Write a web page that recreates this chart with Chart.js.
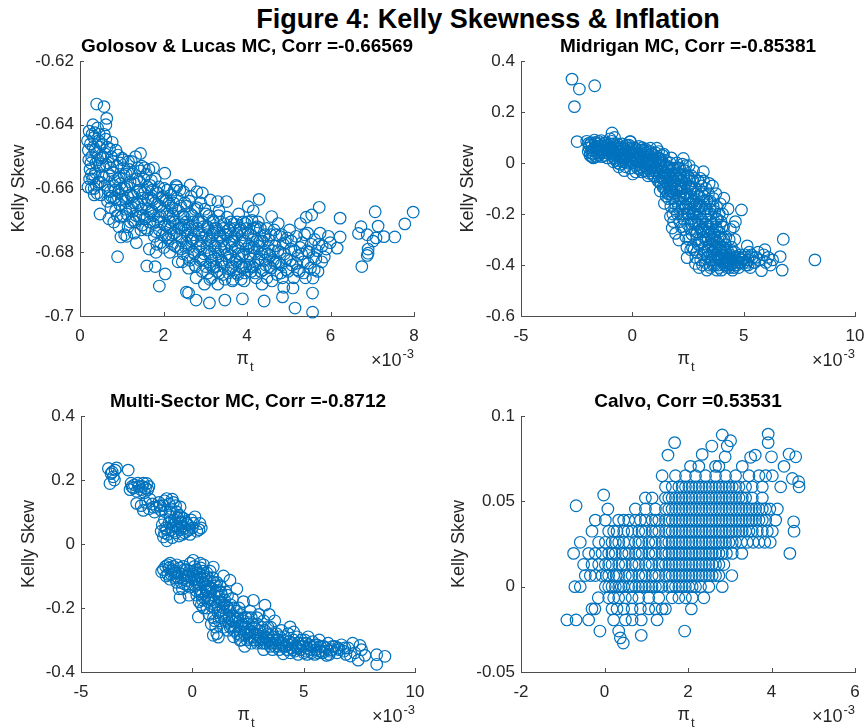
<!DOCTYPE html>
<html>
<head>
<meta charset="utf-8">
<title>Figure 4: Kelly Skewness & Inflation</title>
<script src="https://cdn.jsdelivr.net/npm/chart.js@4.4.1/dist/chart.umd.min.js"></script>
<style>
    body {
        margin: 0;
        width: 865px;
        height: 727px;
        position: relative;
        overflow: hidden;
        background: #fff;
        font-family: "Liberation Sans", Arial, Helvetica, sans-serif;
    }
    #figTitle {
        position: absolute;
        left: 488px;
        top: 6px;
        transform: translateX(-50%);
        white-space: nowrap;
        font-size: 27px;
        line-height: 27px;
        font-weight: bold;
        color: #000;
    }
    canvas {
        position: absolute;
    }
</style>
</head>
<body>
<div id="figTitle"></div>
<canvas id="golosovChart"></canvas>
<canvas id="midriganChart"></canvas>
<canvas id="multiChart"></canvas>
<canvas id="calvoChart"></canvas>

<script>
var figTitle = 'Figure 4: Kelly Skewness & Inflation';
var yLabel = 'Kelly Skew';
var panelTitles = [
    'Golosov & Lucas MC, Corr =-0.66569',
    'Midrigan MC, Corr =-0.85381',
    'Multi-Sector MC, Corr =-0.8712',
    'Calvo, Corr =0.53531'
];

// x = pi_t in units of 1e-3 (axes show x10^-3), y = Kelly skewness
var golosovPts = [
    [0.40, -0.6335], [0.575, -0.6343], [0.64, -0.638], [0.62, -0.640], [0.48, -0.668], [0.34, -0.660],
    [0.22, -0.642], [0.25, -0.646], [0.28, -0.650], [0.24, -0.654], [0.30, -0.657], [0.27, -0.660], [0.33, -0.644],
    [0.36, -0.648], [0.38, -0.652], [0.35, -0.656], [0.42, -0.641], [0.45, -0.645], [0.40, -0.649], [0.47, -0.653],
    [0.44, -0.658], [0.50, -0.662], [0.31, -0.640], [0.26, -0.652], [0.48, -0.647], [0.52, -0.656], [0.20, -0.648],
    [0.34, -0.662], [0.55, -0.650], [0.58, -0.643], [0.60, -0.659],
    [0.65, -0.647], [0.68, -0.652], [0.70, -0.656], [0.72, -0.661], [0.66, -0.664], [0.75, -0.650], [0.78, -0.655],
    [0.80, -0.659], [0.82, -0.663], [0.85, -0.667], [0.88, -0.653], [0.90, -0.657], [0.92, -0.661], [0.95, -0.665],
    [0.98, -0.669], [0.86, -0.648], [0.74, -0.666], [0.96, -0.652], [1.00, -0.660], [0.93, -0.672],
    [0.90, -0.6814], [0.98, -0.6752], [0.72, -0.663],
    [1.03, -0.651], [1.06, -0.656], [1.08, -0.660], [1.10, -0.664], [1.12, -0.668], [1.15, -0.672], [1.18, -0.654],
    [1.20, -0.658], [1.22, -0.662], [1.25, -0.666], [1.28, -0.670], [1.30, -0.674], [1.33, -0.650], [1.36, -0.657],
    [1.38, -0.661], [1.40, -0.665], [1.42, -0.669], [1.45, -0.649], [1.48, -0.653], [1.50, -0.663], [1.46, -0.673],
    [1.35, -0.677], [1.12, -0.675],
    [1.53, -0.657], [1.56, -0.661], [1.58, -0.665], [1.60, -0.669], [1.62, -0.673], [1.65, -0.654], [1.68, -0.659],
    [1.70, -0.663], [1.72, -0.667], [1.75, -0.671], [1.78, -0.675], [1.80, -0.657], [1.83, -0.661], [1.85, -0.665],
    [1.88, -0.669], [1.90, -0.673], [1.93, -0.677], [1.96, -0.663], [1.98, -0.667], [1.66, -0.679], [1.82, -0.680],
    [1.90, -0.6906], [2.03, -0.6552], [1.60, -0.6843], [1.80, -0.6845], [2.04, -0.6868],
    [2.02, -0.660], [2.05, -0.664], [2.08, -0.668], [2.10, -0.672], [2.12, -0.676], [2.15, -0.680], [2.18, -0.662],
    [2.20, -0.666], [2.22, -0.670], [2.25, -0.674], [2.28, -0.678], [2.30, -0.659], [2.33, -0.663], [2.36, -0.667],
    [2.38, -0.671], [2.40, -0.675], [2.42, -0.679], [2.45, -0.683], [2.48, -0.661], [2.50, -0.669], [2.35, -0.683],
    [2.52, -0.673], [2.55, -0.677], [2.58, -0.681], [2.60, -0.685], [2.62, -0.664], [2.65, -0.668], [2.68, -0.672],
    [2.70, -0.676], [2.72, -0.680], [2.75, -0.684], [2.78, -0.688], [2.80, -0.666], [2.83, -0.670], [2.85, -0.674],
    [2.88, -0.678], [2.90, -0.682], [2.93, -0.686], [2.96, -0.672], [2.98, -0.690], [2.64, -0.6589], [2.80, -0.661],
    [2.32, -0.6594], [2.93, -0.6614], [2.60, -0.6928], [2.78, -0.695], [2.55, -0.6925],
    [3.02, -0.668], [3.05, -0.672], [3.08, -0.676], [3.10, -0.680], [3.12, -0.684], [3.15, -0.688], [3.18, -0.670],
    [3.20, -0.674], [3.22, -0.678], [3.25, -0.682], [3.28, -0.686], [3.30, -0.690], [3.33, -0.667], [3.36, -0.675],
    [3.38, -0.679], [3.40, -0.683], [3.42, -0.687], [3.45, -0.671], [3.48, -0.681], [3.12, -0.6636], [3.30, -0.6641],
    [3.10, -0.6959], [3.47, -0.695],
    [3.52, -0.669], [3.55, -0.673], [3.58, -0.677], [3.60, -0.681], [3.62, -0.685], [3.65, -0.689], [3.68, -0.671],
    [3.70, -0.675], [3.72, -0.679], [3.75, -0.683], [3.78, -0.687], [3.80, -0.668], [3.83, -0.673], [3.85, -0.677],
    [3.88, -0.681], [3.90, -0.685], [3.93, -0.689], [3.96, -0.671], [3.98, -0.679], [3.51, -0.6641], [3.89, -0.6946],
    [4.02, -0.674], [4.05, -0.678], [4.08, -0.682], [4.10, -0.686], [4.12, -0.670], [4.15, -0.676], [4.18, -0.680],
    [4.20, -0.684], [4.22, -0.688], [4.25, -0.672], [4.28, -0.678], [4.30, -0.682], [4.33, -0.686], [4.36, -0.690],
    [4.40, -0.675], [4.42, -0.680], [4.45, -0.684], [4.48, -0.688], [4.29, -0.6634], [4.03, -0.6657], [4.41, -0.6953],
    [4.15, -0.667],
    [4.52, -0.676], [4.55, -0.681], [4.58, -0.685], [4.60, -0.689], [4.59, -0.6688], [4.65, -0.673], [4.68, -0.678],
    [4.70, -0.683], [4.72, -0.687], [4.78, -0.675], [4.80, -0.680], [4.82, -0.684], [4.85, -0.688], [4.88, -0.691],
    [4.92, -0.677], [4.95, -0.682], [4.98, -0.686], [4.85, -0.694], [4.75, -0.671],
    [5.02, -0.673], [5.05, -0.679], [5.08, -0.684], [5.12, -0.688], [5.15, -0.6975], [5.10, -0.6912], [5.18, -0.675],
    [5.22, -0.681], [5.25, -0.686], [5.28, -0.671], [5.32, -0.677], [5.35, -0.683], [5.40, -0.688], [5.45, -0.674],
    [5.48, -0.680], [5.52, -0.685], [5.57, -0.6988], [5.57, -0.6928], [5.58, -0.6881], [5.55, -0.6683], [5.62, -0.676],
    [5.65, -0.682], [5.70, -0.686], [5.73, -0.6659], [5.75, -0.674], [5.79, -0.683], [5.80, -0.678], [5.42, -0.669],
    [5.99, -0.677], [6.16, -0.6787], [6.23, -0.6693], [6.23, -0.6752], [5.90, -0.679], [5.95, -0.675],
    [6.67, -0.6741], [6.73, -0.672], [6.75, -0.6845], [6.90, -0.6803], [6.90, -0.6790], [6.88, -0.6810], [7.07, -0.6673],
    [7.14, -0.6718], [7.09, -0.6755], [7.02, -0.6765], [7.28, -0.6751], [7.54, -0.6752], [7.78, -0.6711], [7.98, -0.6674],
    [6.88, -0.6745],
    [0.18, -0.645], [0.21, -0.651], [0.23, -0.657], [0.29, -0.643], [0.32, -0.647], [0.37, -0.655], [0.39, -0.659],
    [0.43, -0.651], [0.46, -0.643], [0.49, -0.658], [0.53, -0.646], [0.56, -0.653], [0.59, -0.649], [0.27, -0.6555],
    [0.41, -0.6615], [0.19, -0.6595], [0.36, -0.6425], [0.51, -0.6505],
    [0.63, -0.6525], [0.67, -0.6605], [0.71, -0.6475], [0.76, -0.6625], [0.79, -0.6515], [0.83, -0.6575], [0.87, -0.6635],
    [0.91, -0.6495], [0.94, -0.6565], [0.99, -0.6635], [1.02, -0.6685], [1.05, -0.6535], [1.09, -0.6665], [1.13, -0.6595],
    [1.16, -0.6515], [1.21, -0.6705], [1.24, -0.6555], [1.27, -0.6625], [1.31, -0.6585], [1.34, -0.6685], [1.39, -0.6535],
    [1.43, -0.6605], [1.47, -0.6665], [1.49, -0.6715], [0.69, -0.6695], [0.81, -0.6705], [1.07, -0.6745],
    [1.51, -0.6685], [1.54, -0.6535], [1.57, -0.6725], [1.61, -0.6595], [1.64, -0.6665], [1.67, -0.6705], [1.71, -0.6575],
    [1.74, -0.6635], [1.77, -0.6685], [1.81, -0.6735], [1.84, -0.6775], [1.87, -0.6615], [1.91, -0.6655], [1.94, -0.6705],
    [1.97, -0.6745], [2.01, -0.6785], [2.04, -0.6715], [2.07, -0.6635], [2.11, -0.6755], [2.14, -0.6685], [2.17, -0.6725],
    [2.21, -0.6775], [2.24, -0.6645], [2.27, -0.6705], [2.31, -0.6745], [2.34, -0.6785], [2.37, -0.6725], [2.41, -0.6655],
    [2.44, -0.6765], [2.47, -0.6805], [2.49, -0.6715],
    [2.51, -0.6645], [2.54, -0.6705], [2.57, -0.6745], [2.61, -0.6785], [2.63, -0.6825], [2.67, -0.6765], [2.71, -0.6705],
    [2.74, -0.6805], [2.77, -0.6845], [2.81, -0.6725], [2.84, -0.6785], [2.87, -0.6825], [2.91, -0.6765], [2.94, -0.6705],
    [2.97, -0.6805], [3.01, -0.6845], [3.04, -0.6785], [3.07, -0.6725], [3.11, -0.6885], [3.14, -0.6805], [3.17, -0.6745],
    [3.21, -0.6845], [3.24, -0.6785], [3.27, -0.6725], [3.31, -0.6805], [3.34, -0.6865], [3.37, -0.6705], [3.41, -0.6765],
    [3.44, -0.6845], [3.47, -0.6885], [3.49, -0.6745],
    [3.53, -0.6805], [3.56, -0.6865], [3.59, -0.6725], [3.63, -0.6785], [3.66, -0.6845], [3.69, -0.6765], [3.73, -0.6825],
    [3.76, -0.6705], [3.79, -0.6785], [3.82, -0.6845], [3.86, -0.6885], [3.89, -0.6745], [3.92, -0.6805], [3.95, -0.6865],
    [3.99, -0.6725], [4.04, -0.6805], [4.09, -0.6745], [4.13, -0.6845], [4.17, -0.6785], [4.21, -0.6725], [4.26, -0.6825],
    [4.31, -0.6765], [4.35, -0.6805], [4.39, -0.6855], [4.44, -0.6745], [4.49, -0.6805], [4.54, -0.6845], [4.61, -0.6795],
    [4.67, -0.6835], [4.74, -0.6795], [4.81, -0.6865], [4.87, -0.6775], [4.94, -0.6855],
    [5.04, -0.6825], [5.14, -0.6795], [5.21, -0.6855], [5.31, -0.6805], [5.38, -0.6745], [5.46, -0.6835], [5.54, -0.6775],
    [5.61, -0.6855], [5.68, -0.6795],
    [0.57, -0.6565], [0.62, -0.6445], [0.73, -0.6535], [0.77, -0.6455], [0.84, -0.6605], [0.89, -0.6685], [0.97, -0.6585],
    [1.01, -0.6505], [1.04, -0.6625], [1.11, -0.6555], [1.14, -0.6625], [1.19, -0.6665], [1.23, -0.6515], [1.29, -0.6645],
    [1.32, -0.6705], [1.37, -0.6645], [1.41, -0.6575], [1.44, -0.6545], [1.52, -0.6615], [1.55, -0.6695], [1.59, -0.6555],
    [1.63, -0.6635], [1.69, -0.6675], [1.73, -0.6605], [1.76, -0.6535], [1.79, -0.6645], [1.86, -0.6705], [1.89, -0.6595],
    [1.92, -0.6685], [1.99, -0.6625], [2.06, -0.6745], [2.09, -0.6605], [2.13, -0.6645], [2.16, -0.6705], [2.19, -0.6745],
    [2.23, -0.6685], [2.26, -0.6605], [2.29, -0.6665], [2.39, -0.6605], [2.43, -0.6725], [2.46, -0.6685], [2.53, -0.6785],
    [2.56, -0.6655], [2.59, -0.6725], [2.66, -0.6625], [2.69, -0.6685], [2.73, -0.6745], [2.76, -0.6665], [2.79, -0.6765],
    [2.86, -0.6705], [2.89, -0.6645], [2.92, -0.6745], [2.95, -0.6825], [2.99, -0.6665], [3.03, -0.6745], [3.06, -0.6865],
    [3.09, -0.6685], [3.13, -0.6765], [3.16, -0.6825], [3.19, -0.6705], [3.23, -0.6725], [3.26, -0.6845], [3.29, -0.6765],
    [3.32, -0.6685], [3.35, -0.6745], [3.39, -0.6825], [3.43, -0.6725], [3.46, -0.6785], [3.54, -0.6745], [3.57, -0.6825],
    [3.61, -0.6705], [3.64, -0.6765], [3.67, -0.6885], [3.71, -0.6725], [3.74, -0.6865], [3.77, -0.6745], [3.81, -0.6805],
    [3.84, -0.6725], [3.87, -0.6845], [3.91, -0.6705], [3.94, -0.6765], [3.97, -0.6845], [4.01, -0.6705], [4.06, -0.6845],
    [4.11, -0.6785], [4.16, -0.6725], [4.19, -0.6865], [4.24, -0.6765], [4.27, -0.6705], [4.32, -0.6725], [4.37, -0.6765],
    [4.43, -0.6825], [4.47, -0.6725], [4.51, -0.6785], [4.57, -0.6745], [4.63, -0.6825], [4.69, -0.6745], [4.76, -0.6835],
    [4.83, -0.6745], [4.90, -0.6805], [4.97, -0.6755], [5.06, -0.6765], [5.17, -0.6835], [5.27, -0.6785], [5.36, -0.6865],
    [5.44, -0.6795], [5.59, -0.6815], [5.72, -0.6775], [5.85, -0.6815]
];

var midriganPts = [
    [-2.71, 0.329], [-2.38, 0.290], [-1.69, 0.303], [-2.60, 0.221], [-2.48, 0.084],
    [-2.05, 0.085], [-1.96, 0.077], [-1.95, 0.060], [-1.90, 0.030], [-1.85, 0.080], [-1.81, 0.025], [-1.80, 0.050],
    [-1.75, 0.020], [-1.70, 0.090], [-1.65, 0.065], [-1.60, 0.040], [-1.55, 0.075], [-1.51, 0.064], [-1.50, 0.030],
    [-1.45, 0.055], [-1.40, 0.088], [-1.35, 0.045], [-1.30, 0.065], [-1.25, 0.030], [-1.20, 0.080], [-1.15, 0.050],
    [-1.10, 0.070], [-1.05, 0.035], [-1.00, 0.095], [-0.91, 0.118], [-0.80, 0.100],
    [-0.95, 0.060], [-0.90, 0.030], [-0.85, 0.075], [-0.80, 0.045], [-0.75, 0.010], [-0.70, 0.065], [-0.65, 0.035],
    [-0.61, -0.015], [-0.55, 0.055], [-0.50, 0.020], [-0.45, 0.075], [-0.40, 0.040], [-0.36, -0.030], [-0.30, 0.005],
    [-0.25, 0.060], [-0.20, 0.030], [-0.15, 0.070], [-0.10, 0.045], [-0.09, 0.084], [-0.05, 0.010], [0.02, -0.043],
    [0.00, 0.055], [-0.55, -0.005], [-0.85, 0.005],
    [0.05, 0.030], [0.10, 0.060], [0.15, -0.010], [0.20, 0.040], [0.25, 0.015], [0.30, 0.065], [0.35, -0.025],
    [0.40, 0.035], [0.45, 0.005], [0.50, 0.050], [0.55, -0.030], [0.60, 0.025], [0.65, -0.005], [0.70, 0.045],
    [0.75, -0.040], [0.80, 0.015], [0.81, 0.058], [0.85, -0.015], [0.90, 0.035], [0.95, -0.050], [1.00, 0.005],
    [0.30, -0.005], [0.60, 0.000], [0.45, 0.060],
    [1.05, 0.040], [1.10, -0.020], [1.15, 0.020], [1.20, -0.050], [1.25, 0.000], [1.30, -0.080], [1.35, 0.030],
    [1.40, -0.030], [1.44, -0.158], [1.45, -0.100], [1.50, 0.010], [1.55, -0.060], [1.60, -0.120], [1.65, -0.015],
    [1.70, -0.085], [1.75, 0.020], [1.80, -0.140], [1.85, -0.045], [1.90, -0.180], [1.94, -0.276], [1.95, -0.100],
    [2.00, 0.000], [1.25, -0.110], [1.71, -0.210], [1.79, -0.255], [1.85, -0.230], [1.50, -0.040], [1.15, -0.070],
    [1.35, -0.060],
    [2.05, -0.020], [2.10, -0.060], [2.15, -0.100], [2.20, -0.140], [2.25, -0.180], [2.30, -0.220], [2.35, -0.030],
    [2.40, -0.080], [2.45, -0.120], [2.50, -0.160], [2.55, -0.200], [2.60, -0.260], [2.65, -0.050], [2.70, -0.100],
    [2.75, -0.150], [2.80, -0.190], [2.85, -0.240], [2.90, -0.300], [2.95, -0.070], [3.00, -0.130], [2.09, -0.302],
    [2.46, -0.371], [2.83, -0.394], [2.40, -0.290], [2.20, -0.250], [2.70, -0.330], [2.90, -0.350], [2.55, -0.010],
    [2.25, -0.005], [2.75, -0.030], [2.35, -0.200], [2.65, -0.220],
    [3.05, -0.060], [3.10, -0.170], [3.15, -0.230], [3.20, -0.290], [3.25, -0.350], [3.30, -0.100], [3.35, -0.150],
    [3.40, -0.200], [3.45, -0.260], [3.50, -0.320], [3.55, -0.380], [3.60, -0.090], [3.65, -0.140], [3.70, -0.190],
    [3.75, -0.250], [3.80, -0.310], [3.85, -0.370], [3.90, -0.410], [3.95, -0.160], [4.00, -0.300], [3.00, -0.410],
    [3.15, -0.400], [3.35, -0.420], [3.50, -0.410], [3.70, -0.400], [3.80, -0.420], [3.20, -0.070], [3.45, -0.080],
    [3.40, -0.370], [3.65, -0.350], [3.90, -0.340], [3.25, -0.180], [3.55, -0.270], [3.75, -0.120],
    [4.05, -0.200], [4.10, -0.250], [4.11, -0.138], [4.15, -0.340], [4.20, -0.380], [4.25, -0.410], [4.30, -0.180],
    [4.35, -0.300], [4.40, -0.360], [4.45, -0.395], [4.50, -0.420], [4.55, -0.250], [4.63, -0.230], [4.60, -0.350],
    [4.65, -0.380], [4.70, -0.400], [4.75, -0.370], [4.80, -0.390], [4.85, -0.360], [4.90, -0.184], [4.95, -0.380],
    [4.00, -0.420], [4.20, -0.290], [4.45, -0.330], [4.30, -0.400], [4.55, -0.410],
    [5.05, -0.360], [5.10, -0.400], [5.16, -0.325], [5.20, -0.380], [5.30, -0.410], [5.35, -0.360], [5.45, -0.390],
    [5.55, -0.370], [5.65, -0.350], [5.70, -0.380], [5.80, -0.422], [5.90, -0.360], [6.00, -0.390], [6.10, -0.370],
    [6.20, -0.400], [6.30, -0.380], [6.64, -0.367], [6.78, -0.299], [6.73, -0.420], [8.20, -0.380], [5.25, -0.350],
    [5.95, -0.340],
    [1.55, -0.010], [1.62, -0.045], [1.72, -0.030], [1.78, -0.110], [1.88, -0.070], [1.98, -0.150], [2.02, -0.200],
    [2.12, -0.020], [2.18, -0.090], [2.28, -0.130], [2.32, -0.060], [2.42, -0.170], [2.48, -0.240], [2.52, -0.090],
    [2.58, -0.140], [2.62, -0.180], [2.68, -0.280], [2.72, -0.070], [2.78, -0.120], [2.82, -0.170], [2.88, -0.210],
    [2.92, -0.270], [2.98, -0.320], [3.02, -0.200], [3.08, -0.260], [3.12, -0.310], [3.18, -0.360], [3.22, -0.130],
    [3.28, -0.240], [3.32, -0.300], [3.38, -0.340], [3.42, -0.120], [3.48, -0.180], [3.52, -0.230], [3.58, -0.300],
    [3.62, -0.400], [3.68, -0.280], [3.72, -0.330], [3.78, -0.170], [3.82, -0.220], [3.88, -0.270], [3.92, -0.380],
    [3.98, -0.230], [4.02, -0.350], [4.08, -0.390], [4.18, -0.320], [4.28, -0.370],
    [-0.80, 0.040], [-0.60, 0.030], [-0.40, 0.020], [-0.20, 0.045], [0.00, 0.010], [0.20, 0.025], [0.40, -0.015],
    [0.60, 0.040], [0.80, -0.030], [1.00, 0.030], [1.10, -0.040], [1.20, 0.020], [1.30, -0.010], [1.40, 0.035],
    [1.45, -0.070], [1.60, -0.020], [1.70, 0.000], [1.75, -0.060], [1.90, -0.020], [2.00, -0.110], [2.10, -0.040],
    [2.20, -0.070], [2.30, -0.100], [2.40, -0.010], [2.50, -0.050], [2.60, -0.100], [2.70, -0.150], [2.80, -0.060],
    [2.90, -0.120], [3.00, -0.170], [3.10, -0.090], [3.20, -0.150], [3.30, -0.210], [3.40, -0.300], [3.50, -0.150],
    [3.60, -0.240], [3.70, -0.340], [3.80, -0.260], [3.90, -0.200], [4.00, -0.380], [4.10, -0.300], [4.20, -0.350],
    [4.40, -0.260], [4.60, -0.300], [3.19, -0.034], [2.29, 0.018], [1.10, 0.058], [-0.10, 0.084],
    [-1.98, 0.045], [-1.92, 0.070], [-1.88, 0.040], [-1.82, 0.065], [-1.77, 0.035], [-1.72, 0.058], [-1.67, 0.080],
    [-1.62, 0.025], [-1.57, 0.050], [-1.52, 0.085], [-1.47, 0.040], [-1.42, 0.068], [-1.37, 0.025], [-1.32, 0.052],
    [-1.27, 0.078], [-1.22, 0.042], [-1.17, 0.065], [-1.12, 0.020], [-1.07, 0.055], [-1.02, 0.075],
    [-0.97, 0.040], [-0.92, 0.085], [-0.87, 0.050], [-0.82, 0.020], [-0.77, 0.060], [-0.72, 0.030], [-0.67, 0.075],
    [-0.62, 0.045], [-0.57, 0.010], [-0.52, 0.060], [-0.47, 0.035], [-0.42, 0.005], [-0.37, 0.055], [-0.32, 0.025],
    [-0.27, 0.070], [-0.22, 0.000], [-0.17, 0.040], [-0.12, 0.015], [-0.07, 0.060], [-0.02, 0.030], [-0.65, 0.000],
    [-0.30, -0.015], [-0.10, -0.020],
    [0.03, 0.000], [0.08, 0.040], [0.13, 0.015], [0.18, 0.055], [0.23, -0.020], [0.28, 0.030], [0.33, 0.005],
    [0.38, 0.050], [0.43, -0.035], [0.48, 0.020], [0.53, -0.010], [0.58, 0.055], [0.63, 0.010], [0.68, -0.020],
    [0.73, 0.030], [0.78, -0.005], [0.83, 0.045], [0.88, -0.040], [0.93, 0.015], [0.98, -0.020], [0.15, -0.035],
    [0.55, 0.045], [0.70, -0.050],
    [1.02, -0.055], [1.08, 0.010], [1.13, -0.030], [1.18, 0.045], [1.23, -0.075], [1.28, -0.020], [1.33, 0.010],
    [1.38, -0.095], [1.43, -0.040], [1.48, -0.015], [1.53, -0.110], [1.58, -0.080], [1.63, -0.140], [1.68, -0.050],
    [1.73, -0.170], [1.77, -0.100], [1.83, -0.020], [1.87, -0.120], [1.92, -0.160], [1.97, -0.050], [1.52, -0.130],
    [1.68, -0.110], [1.82, -0.200],
    [2.03, -0.090], [2.07, -0.170], [2.13, -0.230], [2.17, -0.050], [2.23, -0.110], [2.27, -0.200], [2.33, -0.260],
    [2.37, -0.140], [2.43, -0.050], [2.47, -0.200], [2.53, -0.300], [2.57, -0.060], [2.63, -0.130], [2.67, -0.240],
    [2.73, -0.200], [2.77, -0.340], [2.83, -0.100], [2.87, -0.280], [2.93, -0.180], [2.97, -0.240], [2.45, -0.330],
    [2.62, -0.340], [2.85, -0.370],
    [3.03, -0.300], [3.07, -0.380], [3.13, -0.120], [3.17, -0.270], [3.23, -0.330], [3.27, -0.390], [3.33, -0.180],
    [3.37, -0.250], [3.43, -0.330], [3.47, -0.400], [3.53, -0.200], [3.57, -0.350], [3.63, -0.170], [3.67, -0.300],
    [3.73, -0.380], [3.77, -0.220], [3.83, -0.330], [3.87, -0.400], [3.93, -0.290], [3.97, -0.360], [4.03, -0.250],
    [4.07, -0.330], [4.13, -0.400], [4.17, -0.370], [4.23, -0.390], [4.27, -0.340], [4.33, -0.390], [4.37, -0.410],
    [4.43, -0.380], [4.48, -0.350], [4.53, -0.390], [4.58, -0.370], [4.68, -0.390], [4.78, -0.410], [4.88, -0.390],
    [5.00, -0.370], [5.15, -0.390], [5.40, -0.370],
    [-1.60, 0.060], [-1.30, 0.040], [-1.00, 0.055], [-0.70, 0.045], [-0.40, 0.060], [-0.10, 0.035], [0.20, 0.010],
    [0.40, 0.050], [0.50, 0.020], [0.70, 0.010], [0.90, 0.000], [1.00, -0.030], [1.15, -0.010], [1.30, 0.000],
    [1.40, -0.060], [1.60, -0.050], [1.70, -0.110], [1.80, -0.060], [1.90, -0.090], [2.00, -0.050], [2.10, -0.130],
    [2.20, -0.100], [2.30, -0.160], [2.40, -0.120], [2.50, -0.200], [2.60, -0.160], [2.70, -0.200], [2.80, -0.230],
    [2.90, -0.160], [3.00, -0.250], [3.10, -0.220], [3.20, -0.260], [3.30, -0.240], [3.40, -0.270], [3.50, -0.280],
    [3.60, -0.320], [3.70, -0.290], [3.80, -0.360], [3.90, -0.370], [4.00, -0.340], [4.10, -0.360], [4.20, -0.400],
    [4.30, -0.380], [4.40, -0.400], [4.50, -0.380], [4.60, -0.400], [4.80, -0.370], [5.00, -0.390], [5.20, -0.400],
    [5.50, -0.390]
];

var multiSectorPts = [
    [-3.77, 0.236], [-3.70, 0.189], [-3.47, 0.231], [-3.60, 0.225], [-3.55, 0.210], [-3.65, 0.220], [-3.40, 0.238],
    [-3.50, 0.200],
    [-2.88, 0.231], [-2.72, 0.179], [-2.80, 0.170], [-2.60, 0.185], [-2.50, 0.165], [-2.40, 0.180], [-2.30, 0.170],
    [-2.20, 0.190], [-2.05, 0.189], [-2.00, 0.170], [-1.95, 0.180], [-2.15, 0.160], [-2.50, 0.127], [-2.65, 0.175],
    [-2.75, 0.190], [-2.45, 0.190], [-2.25, 0.180], [-2.10, 0.175],
    [-2.30, 0.120], [-2.20, 0.105], [-2.10, 0.130], [-1.95, 0.110], [-1.80, 0.125], [-1.70, 0.100], [-1.60, 0.115],
    [-1.50, 0.130], [-1.40, 0.105], [-1.30, 0.120], [-1.15, 0.142], [-1.05, 0.125], [-0.95, 0.110], [-0.85, 0.130],
    [-0.55, 0.116], [-1.20, 0.100], [-0.70, 0.100],
    [-1.90, 0.140], [-1.75, 0.115], [-1.45, 0.120], [-1.25, 0.135], [-1.00, 0.100], [-0.90, 0.140], [-0.75, 0.120],
    [-1.30, 0.022], [-1.40, 0.040], [-1.35, 0.060], [-1.25, 0.075], [-1.20, 0.050], [-1.10, 0.030], [-1.05, 0.065],
    [-1.00, 0.085], [-0.95, 0.045], [-0.90, 0.020], [-0.85, 0.060], [-0.80, 0.075], [-0.75, 0.035], [-0.70, 0.055],
    [-0.65, 0.080], [-0.60, 0.025], [-0.55, 0.045], [-0.50, 0.065], [-0.45, 0.030], [-0.40, 0.080], [-0.35, 0.050],
    [-0.30, 0.070], [-0.25, 0.040], [-0.20, 0.060], [-0.10, 0.030], [-0.05, 0.075], [0.00, 0.050], [0.12, 0.085],
    [0.20, 0.040], [0.34, 0.064], [0.40, 0.050], [-1.15, 0.010], [-0.60, 0.090],
    [-1.25, 0.035], [-1.15, 0.045], [-0.95, 0.070], [-0.85, 0.040], [-0.75, 0.065], [-0.65, 0.050], [-0.55, 0.070],
    [-0.45, 0.055], [-0.35, 0.035], [-0.25, 0.065], [-0.15, 0.045], [0.05, 0.065], [0.30, 0.045], [-0.50, 0.085],
    [-1.38, -0.087], [-0.55, -0.167], [-1.20, -0.070], [-1.10, -0.095], [-1.00, -0.060], [-0.90, -0.080],
    [-0.80, -0.105], [-0.70, -0.065], [-0.60, -0.090], [-0.50, -0.120], [-0.40, -0.070], [-0.30, -0.100],
    [-0.20, -0.130], [-0.10, -0.060], [0.00, -0.085], [-0.45, -0.140], [-0.15, -0.160], [0.04, -0.051],
    [-0.70, -0.120], [-1.00, -0.110], [-0.25, -0.080],
    [-1.30, -0.080], [-1.18, -0.100], [-1.05, -0.075], [-0.95, -0.095], [-0.85, -0.070], [-0.75, -0.090],
    [-0.65, -0.105], [-0.55, -0.075], [-0.45, -0.095], [-0.35, -0.080], [-0.25, -0.115], [-0.15, -0.085],
    [-0.05, -0.105], [-0.60, -0.140], [-0.35, -0.125], [-0.10, -0.135], [-0.80, -0.085], [-1.10, -0.065],
    [0.10, -0.070], [0.20, -0.120], [0.27, -0.228], [0.30, -0.090], [0.40, -0.150], [0.50, -0.065], [0.60, -0.110],
    [0.70, -0.180], [0.80, -0.085], [0.90, -0.140], [0.94, -0.072], [0.94, -0.285], [1.00, -0.200], [1.10, -0.120],
    [1.17, -0.291], [1.20, -0.165], [1.30, -0.230], [1.40, -0.100], [1.50, -0.150], [1.60, -0.200], [1.69, -0.113],
    [1.70, -0.260], [1.80, -0.170], [1.90, -0.230], [2.00, -0.140], [0.20, -0.160], [0.50, -0.200], [0.70, -0.130],
    [1.00, -0.240], [1.30, -0.180], [1.60, -0.270], [0.35, -0.060], [0.85, -0.250], [1.25, -0.130], [1.85, -0.290],
    [0.60, -0.160], [1.10, -0.280], [0.15, -0.100],
    [0.05, -0.095], [0.12, -0.130], [0.18, -0.080], [0.25, -0.110], [0.32, -0.140], [0.38, -0.075], [0.45, -0.120],
    [0.52, -0.100], [0.58, -0.135], [0.65, -0.090], [0.72, -0.150], [0.78, -0.115], [0.85, -0.175], [0.92, -0.105],
    [0.98, -0.160], [1.05, -0.130], [1.12, -0.190], [1.18, -0.145], [1.25, -0.210], [1.32, -0.160], [1.38, -0.200],
    [1.45, -0.175], [1.52, -0.220], [1.58, -0.160], [1.65, -0.230], [1.72, -0.190], [1.78, -0.240], [1.85, -0.200],
    [1.92, -0.260], [1.98, -0.210], [0.40, -0.190], [0.75, -0.220], [1.05, -0.260], [1.40, -0.260], [0.55, -0.170],
    [0.30, -0.180],
    [0.08, -0.110], [0.16, -0.145], [0.22, -0.090], [0.28, -0.125], [0.36, -0.105], [0.43, -0.160], [0.48, -0.085],
    [0.56, -0.125], [0.62, -0.145], [0.68, -0.105], [0.74, -0.170], [0.82, -0.135], [0.88, -0.195], [0.95, -0.120],
    [1.02, -0.180], [1.08, -0.150], [1.15, -0.215], [1.22, -0.180], [1.28, -0.150], [1.35, -0.220], [1.42, -0.190],
    [1.48, -0.240], [1.55, -0.195], [1.62, -0.245], [1.68, -0.210], [1.75, -0.255], [1.82, -0.225], [1.88, -0.270],
    [1.95, -0.240], [0.65, -0.200], [0.95, -0.230], [1.20, -0.240], [0.45, -0.175], [-0.20, -0.100], [-0.40, -0.110],
    [-0.75, -0.100], [-0.95, -0.085],
    [2.10, -0.200], [2.14, -0.301], [2.20, -0.260], [2.30, -0.180], [2.40, -0.230], [2.50, -0.280], [2.60, -0.210],
    [2.70, -0.250], [2.74, -0.176], [2.80, -0.300], [2.90, -0.230], [3.00, -0.270], [3.10, -0.310], [3.20, -0.240],
    [3.26, -0.191], [3.30, -0.290], [3.40, -0.260], [3.50, -0.320], [3.60, -0.280], [3.70, -0.240], [3.80, -0.300],
    [3.90, -0.330], [4.00, -0.270], [2.20, -0.300], [2.50, -0.230], [2.90, -0.310], [3.20, -0.330], [3.60, -0.330],
    [2.35, -0.320], [3.00, -0.220], [3.45, -0.220], [2.65, -0.310],
    [2.05, -0.230], [2.12, -0.270], [2.18, -0.220], [2.25, -0.250], [2.32, -0.280], [2.38, -0.260], [2.45, -0.300],
    [2.52, -0.250], [2.58, -0.270], [2.65, -0.230], [2.72, -0.290], [2.78, -0.260], [2.85, -0.280], [2.92, -0.250],
    [2.98, -0.300], [3.05, -0.290], [3.12, -0.260], [3.18, -0.300], [3.25, -0.270], [3.32, -0.310], [3.38, -0.280],
    [3.45, -0.300], [3.52, -0.260], [3.58, -0.310], [3.65, -0.290], [3.72, -0.320], [3.78, -0.280], [3.85, -0.300],
    [3.92, -0.290], [3.98, -0.315],
    [2.02, -0.280], [2.08, -0.245], [2.15, -0.285], [2.28, -0.240], [2.42, -0.275], [2.55, -0.295], [2.68, -0.275],
    [2.82, -0.300], [2.95, -0.285], [3.08, -0.295], [3.22, -0.310], [3.35, -0.295], [3.48, -0.310], [3.62, -0.300],
    [3.75, -0.310], [3.88, -0.320],
    [4.08, -0.343], [4.10, -0.300], [4.20, -0.320], [4.30, -0.280], [4.39, -0.259], [4.50, -0.310], [4.60, -0.335],
    [4.70, -0.290], [4.80, -0.320], [4.90, -0.300], [5.00, -0.340], [5.10, -0.310], [5.20, -0.290], [5.30, -0.330],
    [5.40, -0.305], [5.50, -0.345], [5.60, -0.315], [5.70, -0.300], [5.80, -0.335], [5.90, -0.320], [6.03, -0.348],
    [4.40, -0.340], [4.75, -0.345], [5.15, -0.345], [5.65, -0.340], [4.55, -0.275],
    [4.05, -0.310], [4.15, -0.290], [4.25, -0.330], [4.35, -0.305], [4.45, -0.325], [4.55, -0.300], [4.65, -0.320],
    [4.75, -0.310], [4.85, -0.330], [4.95, -0.320], [5.05, -0.300], [5.15, -0.325], [5.25, -0.315], [5.35, -0.340],
    [5.45, -0.320], [5.55, -0.330], [5.75, -0.320], [5.85, -0.340], [6.00, -0.325], [6.15, -0.345], [6.30, -0.320],
    [6.60, -0.330],
    [4.12, -0.320], [4.32, -0.315], [4.52, -0.330], [4.72, -0.325], [4.92, -0.310], [5.12, -0.335], [5.32, -0.320],
    [5.52, -0.315], [5.72, -0.335], [5.95, -0.335], [6.25, -0.330], [6.55, -0.325], [6.85, -0.325],
    [6.10, -0.310], [6.20, -0.335], [6.40, -0.320], [6.50, -0.340], [6.70, -0.315], [6.80, -0.335], [7.00, -0.325],
    [7.20, -0.310], [7.30, -0.340], [7.45, -0.363], [7.53, -0.317], [7.75, -0.348], [8.28, -0.346], [8.28, -0.376],
    [8.65, -0.351], [7.60, -0.330], [6.90, -0.345], [7.10, -0.350]
];

var calvoPts = [
    [-0.90, -0.0195], [-0.68, -0.0195], [-0.38, -0.0195], [0.22, -0.0195], [0.50, -0.0195], [0.66, -0.0195],
    [0.88, -0.0195], [1.26, -0.0195],
    [-0.11, -0.026], [0.34, -0.026], [0.38, -0.030], [0.45, -0.033], [0.88, -0.0285], [1.92, -0.026],
    [-0.30, -0.013], [-0.23, -0.013], [0.18, -0.013], [0.30, -0.013], [0.46, -0.013], [0.66, -0.013], [0.86, -0.013],
    [1.06, -0.013], [1.22, -0.013], [1.38, -0.013], [1.46, -0.013], [2.08, -0.013],
    [-0.15, -0.0065], [0.10, -0.0065], [0.22, -0.0065], [0.34, -0.0065], [0.50, -0.0065], [0.66, -0.0065],
    [0.82, -0.0065], [1.06, -0.0065], [1.30, -0.0065], [1.62, -0.0065], [1.78, -0.0065], [1.94, -0.0065],
    [2.10, -0.0065], [2.38, -0.0065],
    [-0.71, 0], [-0.58, 0], [0.02, 0], [0.18, 0], [0.34, 0], [0.46, 0], [0.58, 0], [0.74, 0], [0.90, 0], [1.06, 0],
    [1.22, 0], [1.38, 0], [1.54, 0], [1.70, 0], [1.86, 0], [2.02, 0], [2.18, 0], [2.50, 0], [2.82, 0],
    [0.10, 0], [0.26, 0], [0.40, 0], [0.66, 0], [0.82, 0], [0.98, 0], [1.14, 0], [1.30, 0], [1.62, 0], [1.78, 0],
    [1.94, 0], [2.10, 0], [2.30, 0],
    [-0.46, 0.0065], [-0.34, 0.0065], [-0.22, 0.0065], [-0.06, 0.0065], [0.10, 0.0065], [0.22, 0.0065], [0.34, 0.0065],
    [0.50, 0.0065], [0.66, 0.0065], [0.82, 0.0065], [0.98, 0.0065], [1.14, 0.0065], [1.30, 0.0065], [1.46, 0.0065],
    [1.62, 0.0065], [1.78, 0.0065], [1.94, 0.0065], [2.10, 0.0065], [2.26, 0.0065], [2.42, 0.0065], [2.58, 0.0065],
    [2.74, 0.0065], [3.05, 0.0065],
    [0.04, 0.0065], [0.28, 0.0065], [0.58, 0.0065], [0.90, 0.0065], [1.22, 0.0065], [1.54, 0.0065], [1.70, 0.0065],
    [1.86, 0.0065], [2.02, 0.0065], [2.18, 0.0065], [2.34, 0.0065], [2.50, 0.0065], [2.66, 0.0065],
    [-0.50, 0.013], [-0.30, 0.013], [-0.14, 0.013], [0.02, 0.013], [0.18, 0.013], [0.34, 0.013], [0.50, 0.013],
    [0.66, 0.013], [0.82, 0.013], [0.98, 0.013], [1.14, 0.013], [1.30, 0.013], [1.46, 0.013], [1.62, 0.013],
    [1.78, 0.013], [1.94, 0.013], [2.10, 0.013], [2.26, 0.013], [2.42, 0.013], [2.58, 0.013], [2.74, 0.013],
    [0.10, 0.013], [0.42, 0.013], [0.74, 0.013], [1.06, 0.013], [1.38, 0.013], [1.54, 0.013], [1.70, 0.013],
    [1.86, 0.013], [2.02, 0.013], [2.18, 0.013], [2.34, 0.013], [2.50, 0.013], [2.66, 0.013], [2.86, 0.013],
    [-0.74, 0.0195], [-0.38, 0.0195], [-0.22, 0.0195], [-0.06, 0.0195], [0.10, 0.0195], [0.26, 0.0195], [0.42, 0.0195],
    [0.58, 0.0195], [0.74, 0.0195], [0.90, 0.0195], [1.06, 0.0195], [1.22, 0.0195], [1.38, 0.0195], [1.54, 0.0195],
    [1.70, 0.0195], [1.86, 0.0195], [2.02, 0.0195], [2.18, 0.0195], [2.34, 0.0195], [2.50, 0.0195], [2.66, 0.0195],
    [2.82, 0.0195], [3.06, 0.0195], [3.29, 0.0195], [4.44, 0.0195],
    [0.18, 0.0195], [0.50, 0.0195], [0.82, 0.0195], [1.14, 0.0195], [1.46, 0.0195], [1.62, 0.0195], [1.78, 0.0195],
    [1.94, 0.0195], [2.10, 0.0195], [2.26, 0.0195], [2.42, 0.0195], [2.58, 0.0195], [2.74, 0.0195], [2.92, 0.0195],
    [-0.58, 0.026], [-0.14, 0.026], [0.02, 0.026], [0.18, 0.026], [0.34, 0.026], [0.58, 0.026], [0.74, 0.026],
    [0.90, 0.026], [1.06, 0.026], [1.22, 0.026], [1.38, 0.026], [1.54, 0.026], [1.70, 0.026], [1.86, 0.026],
    [2.02, 0.026], [2.18, 0.026], [2.34, 0.026], [2.50, 0.026], [2.66, 0.026], [2.82, 0.026], [2.98, 0.026],
    [3.14, 0.026], [3.42, 0.026], [3.70, 0.026], [3.97, 0.026],
    [0.26, 0.026], [0.46, 0.026], [0.82, 0.026], [1.14, 0.026], [1.46, 0.026], [1.62, 0.026], [1.78, 0.026],
    [1.94, 0.026], [2.10, 0.026], [2.26, 0.026], [2.42, 0.026], [2.58, 0.026], [2.74, 0.026], [2.90, 0.026],
    [3.06, 0.026], [3.28, 0.026], [3.56, 0.026], [3.84, 0.026],
    [-0.30, 0.0325], [0.10, 0.0325], [0.30, 0.0325], [0.46, 0.0325], [0.66, 0.0325], [0.82, 0.0325], [0.98, 0.0325],
    [1.14, 0.0325], [1.30, 0.0325], [1.46, 0.0325], [1.62, 0.0325], [1.78, 0.0325], [1.94, 0.0325], [2.10, 0.0325],
    [2.26, 0.0325], [2.42, 0.0325], [2.58, 0.0325], [2.74, 0.0325], [2.90, 0.0325], [3.06, 0.0325], [3.22, 0.0325],
    [3.38, 0.0325], [3.54, 0.0325], [3.78, 0.0325], [4.02, 0.0325], [4.54, 0.0325],
    [0.22, 0.0325], [0.56, 0.0325], [0.90, 0.0325], [1.22, 0.0325], [1.54, 0.0325], [1.70, 0.0325], [1.86, 0.0325],
    [2.02, 0.0325], [2.18, 0.0325], [2.34, 0.0325], [2.50, 0.0325], [2.66, 0.0325], [2.82, 0.0325], [2.98, 0.0325],
    [3.14, 0.0325], [3.30, 0.0325], [3.46, 0.0325], [3.66, 0.0325], [3.90, 0.0325],
    [-0.22, 0.039], [0.02, 0.039], [0.34, 0.039], [0.58, 0.039], [0.74, 0.039], [0.98, 0.039], [1.14, 0.039],
    [1.30, 0.039], [1.46, 0.039], [1.62, 0.039], [1.78, 0.039], [1.94, 0.039], [2.10, 0.039], [2.26, 0.039],
    [2.42, 0.039], [2.58, 0.039], [2.74, 0.039], [2.90, 0.039], [3.06, 0.039], [3.22, 0.039], [3.38, 0.039],
    [3.54, 0.039], [3.70, 0.039], [3.86, 0.039], [4.10, 0.039], [4.53, 0.038],
    [0.46, 0.039], [0.86, 0.039], [1.22, 0.039], [1.54, 0.039], [1.70, 0.039], [1.86, 0.039], [2.02, 0.039],
    [2.18, 0.039], [2.34, 0.039], [2.50, 0.039], [2.66, 0.039], [2.82, 0.039], [2.98, 0.039], [3.14, 0.039],
    [3.30, 0.039], [3.46, 0.039], [3.62, 0.039], [3.78, 0.039],
    [-0.68, 0.0474], [0.08, 0.0455], [0.74, 0.0455], [0.98, 0.0455], [1.22, 0.0455], [1.46, 0.0455], [1.62, 0.0455],
    [1.78, 0.0455], [1.94, 0.0455], [2.10, 0.0455], [2.26, 0.0455], [2.42, 0.0455], [2.58, 0.0455], [2.74, 0.0455],
    [2.90, 0.0455], [3.06, 0.0455], [3.22, 0.0455], [3.38, 0.0455], [3.54, 0.0455], [3.70, 0.0455], [3.86, 0.0455],
    [4.14, 0.0455],
    [1.54, 0.0455], [1.70, 0.0455], [1.86, 0.0455], [2.02, 0.0455], [2.18, 0.0455], [2.34, 0.0455], [2.50, 0.0455],
    [2.66, 0.0455], [2.82, 0.0455], [2.98, 0.0455], [3.14, 0.0455], [3.30, 0.0455], [3.46, 0.0455], [3.62, 0.0455],
    [3.78, 0.0455], [3.96, 0.0455],
    [-0.02, 0.0537], [0.98, 0.052], [1.14, 0.052], [1.46, 0.052], [1.62, 0.052], [1.78, 0.052], [1.94, 0.052],
    [2.10, 0.052], [2.26, 0.052], [2.42, 0.052], [2.58, 0.052], [2.74, 0.052], [2.90, 0.052], [3.06, 0.052],
    [3.22, 0.052], [3.38, 0.052], [3.54, 0.052], [3.78, 0.052],
    [1.54, 0.052], [1.70, 0.052], [1.86, 0.052], [2.02, 0.052], [2.18, 0.052], [2.34, 0.052], [2.50, 0.052],
    [2.66, 0.052], [2.82, 0.052], [2.98, 0.052], [3.14, 0.052], [3.30, 0.052],
    [1.46, 0.0585], [1.62, 0.0585], [1.78, 0.0585], [1.94, 0.0585], [2.10, 0.0585], [2.26, 0.0585], [2.42, 0.0585],
    [2.58, 0.0585], [2.74, 0.0585], [2.90, 0.0585], [3.06, 0.0585], [3.22, 0.0585], [3.54, 0.0585], [3.78, 0.0585],
    [4.22, 0.0585], [4.66, 0.0585],
    [1.86, 0.0585], [2.02, 0.0585], [2.18, 0.0585], [2.34, 0.0585], [2.50, 0.0585], [2.66, 0.0585], [2.82, 0.0585],
    [2.98, 0.0585], [3.14, 0.0585], [3.38, 0.0585],
    [1.38, 0.065], [1.70, 0.065], [1.94, 0.065], [2.18, 0.065], [2.42, 0.065], [2.66, 0.065], [2.90, 0.065],
    [3.14, 0.065], [3.46, 0.065], [3.70, 0.065], [3.86, 0.065], [4.02, 0.065], [4.50, 0.0634], [4.65, 0.0615],
    [2.06, 0.0705], [2.26, 0.0705], [2.66, 0.0705], [2.74, 0.0705], [3.30, 0.0705], [4.30, 0.0705],
    [1.52, 0.0771], [2.34, 0.0775], [2.89, 0.0761], [3.61, 0.0771], [4.00, 0.0761], [4.58, 0.0761], [2.57, 0.0824],
    [2.94, 0.0824], [3.92, 0.0844], [1.68, 0.0844], [2.82, 0.0889], [3.92, 0.0894], [3.02, 0.0855], [3.50, 0.0758],
    [4.42, 0.0777]
];

var golosovXTicks = [0, 2, 4, 6, 8];
var golosovYTicks = [-0.7, -0.68, -0.66, -0.64, -0.62];
var midriganXTicks = [-5, 0, 5, 10];
var midriganYTicks = [-0.6, -0.4, -0.2, 0, 0.2, 0.4];
var multiXTicks = [-5, 0, 5, 10];
var multiYTicks = [-0.4, -0.2, 0, 0.2, 0.4];
var calvoXTicks = [-2, 0, 2, 4, 6];
var calvoYTicks = [-0.05, 0, 0.05, 0.1];

var FONT = '"Liberation Sans", Arial, Helvetica, sans-serif';
var MARKER = '#0072BD';
var AXIS = '#4d4d4d';
var TEXT = '#262626';

Chart.defaults.font.family = FONT;

// inward tick marks, the pi_t label and the x10^-3 exponent (canvas text)
var matlabAxes = {
    id: 'matlabAxes',
    afterDraw: function (chart) {
        var ctx = chart.ctx;
        var a = chart.chartArea;
        var xs = chart.scales.x;
        var ys = chart.scales.y;
        ctx.save();
        ctx.strokeStyle = AXIS;
        ctx.lineWidth = 1;
        ctx.beginPath();
        xs.ticks.forEach(function (t) {
            var px = Math.round(xs.getPixelForValue(t.value)) + 0.5;
            ctx.moveTo(px, a.bottom);
            ctx.lineTo(px, a.bottom - 4);
        });
        ys.ticks.forEach(function (t) {
            var py = Math.round(ys.getPixelForValue(t.value)) + 0.5;
            ctx.moveTo(a.left, py);
            ctx.lineTo(a.left + 4, py);
        });
        ctx.stroke();

        ctx.fillStyle = TEXT;
        ctx.textBaseline = 'middle';
        var cx = (a.left + a.right) / 2;
        ctx.font = '18px ' + FONT;
        ctx.textAlign = 'right';
        ctx.fillText('\u03C0', cx + 2, a.bottom + 43);
        ctx.font = '13px ' + FONT;
        ctx.textAlign = 'left';
        ctx.fillText('t', cx + 3, a.bottom + 51);

        ctx.font = '13px ' + FONT;
        ctx.textAlign = 'right';
        ctx.fillText('-3', a.right, a.bottom + 38);
        var w = ctx.measureText('-3').width;
        ctx.font = '18px ' + FONT;
        ctx.fillText('\u00D710', a.right - w - 1, a.bottom + 45);
        ctx.restore();
    }
};

function tickText(v) {
    return String(+Number(v).toFixed(4));
}

function makePanel(cfg) {
    var canvas = document.getElementById(cfg.id);
    canvas.width = cfg.w;
    canvas.height = cfg.h;
    canvas.style.left = cfg.left + 'px';
    canvas.style.top = cfg.top + 'px';

    return new Chart(canvas, {
        type: 'scatter',
        data: {
            datasets: [{
                data: cfg.points.map(function (p) { return { x: p[0], y: p[1] }; }),
                pointStyle: 'circle',
                pointRadius: 5.8,
                pointBorderWidth: 1.2,
                pointBorderColor: MARKER,
                pointBackgroundColor: 'rgba(0,0,0,0)',
                clip: false
            }]
        },
        options: {
            responsive: false,
            animation: false,
            events: [],
            layout: { padding: { left: 0, right: 20, top: 0, bottom: cfg.padB } },
            plugins: {
                legend: { display: false },
                tooltip: { enabled: false },
                title: {
                    display: true,
                    fullSize: false,
                    text: cfg.title,
                    color: '#000',
                    font: { size: 19, weight: 'bold' },
                    padding: { top: 5.5, bottom: 2.7 }
                }
            },
            scales: {
                x: {
                    type: 'linear',
                    min: cfg.xTicks[0],
                    max: cfg.xTicks[cfg.xTicks.length - 1],
                    grid: { display: false, drawTicks: false },
                    border: { display: true, color: AXIS, width: 1 },
                    ticks: { autoSkip: false, maxRotation: 0, padding: 10, color: TEXT, font: { size: 17 }, callback: tickText },
                    afterBuildTicks: function (s) { s.ticks = cfg.xTicks.map(function (v) { return { value: v }; }); },
                    afterFit: function (s) { s.height = 46; }
                },
                y: {
                    type: 'linear',
                    min: cfg.yTicks[0],
                    max: cfg.yTicks[cfg.yTicks.length - 1],
                    grid: { display: false, drawTicks: false },
                    border: { display: true, color: AXIS, width: 1 },
                    ticks: { autoSkip: false, padding: 6, color: TEXT, font: { size: 17 }, callback: tickText },
                    title: { display: true, text: yLabel, color: TEXT, font: { size: 18 }, padding: { top: cfg.yTitlePad, bottom: 0 } },
                    afterBuildTicks: function (s) { s.ticks = cfg.yTicks.map(function (v) { return { value: v }; }); },
                    afterFit: function (s) { s.width = cfg.yw; }
                }
            }
        },
        plugins: [matlabAxes]
    });
}

document.getElementById('figTitle').textContent = figTitle;

makePanel({ id: 'golosovChart', left: 0, top: 30, w: 434, h: 350, padB: 18, yw: 80, yTitlePad: 8,
    title: panelTitles[0], points: golosovPts, xTicks: golosovXTicks, yTicks: golosovYTicks });
makePanel({ id: 'midriganChart', left: 432, top: 30, w: 443, h: 350, padB: 18, yw: 89, yTitlePad: 25,
    title: panelTitles[1], points: midriganPts, xTicks: midriganXTicks, yTicks: midriganYTicks });
makePanel({ id: 'multiChart', left: 0, top: 385, w: 435, h: 342, padB: 9, yw: 81, yTitlePad: 18,
    title: panelTitles[2], points: multiSectorPts, xTicks: multiXTicks, yTicks: multiYTicks });
makePanel({ id: 'calvoChart', left: 432, top: 385, w: 443, h: 342, padB: 9, yw: 89, yTitlePad: 16,
    title: panelTitles[3], points: calvoPts, xTicks: calvoXTicks, yTicks: calvoYTicks });
</script>
</body>
</html>
